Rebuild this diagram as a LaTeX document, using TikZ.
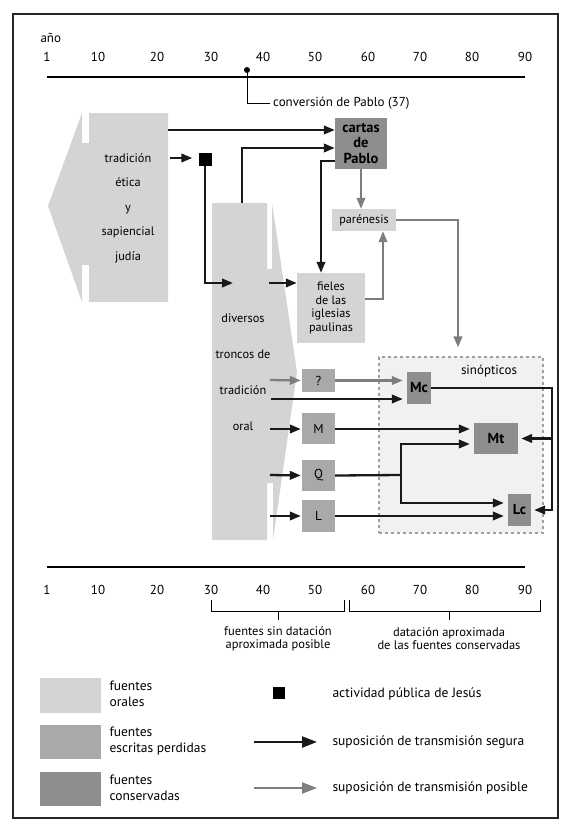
\documentclass[tikz,border=0pt]{standalone}
\usepackage{fontspec}
\setmainfont{PT Sans}
\usepackage{tikz}
\usetikzlibrary{arrows.meta}
\usepackage{xcolor}
\definecolor{oral}{HTML}{D4D4D4}
\definecolor{perdida}{HTML}{A9A9A9}
\definecolor{conserv}{HTML}{8E8E8E}
\definecolor{posible}{HTML}{7E7E7E}
\definecolor{sinop}{HTML}{F1F1F1}

\begin{document}
\begin{tikzpicture}[x=1pt,y=-1pt,>={Triangle[length=11pt,width=8.5pt]},
  font=\fontsize{13}{15}\selectfont,
  seg/.style={line width=2.3pt,black!90},
  posib/.style={line width=2.3pt,posible},
  oralbox/.style={fill=oral,inner sep=0pt,align=center,font=\fontsize{12.2}{13.5}\selectfont},
  lostbox/.style={fill=perdida,inner sep=0pt,align=center,font=\fontsize{13}{14}\selectfont},
  keptbox/.style={fill=conserv,inner sep=0pt,align=center,font=\fontsize{14.5}{15.5}\selectfont\bfseries}]
\useasboundingbox (0,0) rectangle (571,831);
\draw[line width=1.3pt,black!85] (13,14) rectangle (558,818);
% eje superior
\node[anchor=west] (ano) at (37,38) {año};
\node (a1) at (47,57) {1};
\node (a10) at (98,57) {10};
\node (a20) at (157,57) {20};
\node (a30) at (211,57) {30};
\node (a40) at (263,57) {40};
\node (a50) at (315,57) {50};
\node (a60) at (368,57) {60};
\node (a70) at (420,57) {70};
\node (a80) at (472,57) {80};
\node (a90) at (525,57) {90};
\draw[line width=1.3pt] (47,77) -- (525,77);
\node[circle,fill,inner sep=0pt,minimum size=6pt] (conv) at (247,70) {};
\node[anchor=west,inner sep=3pt] (convtxt) at (270,103) {conversión de Pablo (37)};
\draw[line width=0.8pt] (conv) |- (convtxt.west);
% tradicion judia
\fill[oral] (48,206) -- (82,113) -- (82,143) -- (89,143) -- (89,113) -- (168,113) -- (168,302)
  -- (89,302) -- (89,265) -- (82,265) -- (82,302) -- cycle;
\node[align=center,font=\fontsize{12.3}{24.5}\selectfont] (judia) at (128,208)
  {tradición\\ética\\y\\sapiencial\\judía};
% troncos orales
\fill[oral] (212,203) -- (267,203) -- (267,269) -- (272,269) -- (272,203) -- (297,372)
  -- (273,540) -- (273,483) -- (267,483) -- (267,540) -- (212,540) -- cycle;
\node[align=center,font=\fontsize{12.3}{36}\selectfont] (troncos) at (243,372.5)
  {diversos\\troncos de\\tradición\\oral};
% cajas
\node[fill=black,inner sep=0pt,minimum size=13pt] (jesus) at (205,159.5) {};
\node[keptbox,minimum width=52pt,minimum height=51pt] (cartas) at (361,143.5) {cartas\\de\\Pablo};
\node[oralbox,minimum width=64pt,minimum height=22pt] (parenesis) at (364,220) {parénesis};
\node[oralbox,minimum width=68pt,minimum height=70pt] (fieles) at (331,308)
  {fieles\\de las\\iglesias\\paulinas};
\node[draw=gray!75,dash pattern=on 3pt off 3pt,line width=1.3pt,fill=sinop,minimum width=164pt,
  minimum height=176pt,inner sep=0pt] (sinopticos) at (461,445) {};
\node (sinlab) at (489,371) {sinópticos};
\node[lostbox,minimum width=33pt,minimum height=23pt] (q) at (318.5,380.5) {?};
\node[lostbox,minimum width=33pt,minimum height=31pt] (m) at (318.5,428.5) {M};
\node[lostbox,minimum width=33pt,minimum height=31pt] (qq) at (318.5,475.5) {Q};
\node[lostbox,minimum width=33pt,minimum height=32pt] (l) at (318.5,516) {L};
\node[keptbox,minimum width=24pt,minimum height=32pt] (mc) at (419,388) {Mc};
\node[keptbox,minimum width=44pt,minimum height=31pt] (mt) at (496,438.5) {Mt};
\node[keptbox,minimum width=23pt,minimum height=32pt] (lc) at (519.5,510) {Lc};
% flechas
\coordinate (j1) at (168,130);
\coordinate (j2) at (170,158);
\coordinate (o0) at (242,203);
\coordinate (o1) at (233,283);
\coordinate (o2) at (269,283);
\coordinate (o3) at (270,380);
\coordinate (o4) at (271,399);
\coordinate (o5) at (270,429);
\coordinate (o6) at (270,475);
\coordinate (o7) at (270,516);
\coordinate (qb) at (401,475);
\coordinate (mcb) at (552,438.5);
\draw[seg,->] (j1) -- (j1 -| cartas.west);
\draw[seg,->,shorten >=6pt] (j2) -- (j2 -| jesus.west);
\draw[seg,->] (jesus.south) |- (o1);
\draw[seg,->] (o0) |- (cartas.west |- 0,148);
\draw[seg,->] (cartas.west |- 0,161) -| (321,0 |- fieles.north);
\draw[seg,->] (o2) -- (o2 -| fieles.west);
\draw[posib,->] (cartas.south) -- (cartas.south |- parenesis.north);
\draw[posib,->] (fieles.east |- 0,299) -| (383,0 |- parenesis.south);
\draw[posib,->,shorten >=9pt] (parenesis.east) -| (458,0 |- sinopticos.north);
\draw[posib,->,shorten >=1pt] (o3) -- (q.west);
\draw[posib,->,shorten >=4pt] (q.east) -- (q.east -| mc.west);
\draw[seg,->,shorten >=4pt] (o4) -- (o4 -| mc.west);
\draw[seg,->,shorten >=1pt] (o5) -- (o5 -| m.west);
\draw[seg,->,shorten >=4pt] (o5 -| m.east) -- (o5 -| mt.west);
\draw[seg,->,shorten >=1pt] (o6) -- (qq.west);
\draw[seg] (qq.east) -- (qb);
\draw[seg,->,shorten >=4pt] (qb) |- (mt.west |- 0,444);
\draw[seg,->,shorten >=4pt] (qb) |- (lc.west |- 0,503);
\draw[seg,->,shorten >=1pt] (o7) -- (l.west);
\draw[seg,->,shorten >=4pt] (l.east) -- (l.east -| lc.west);
\draw[seg,->,shorten >=3pt] (mc.east) -| (mcb) -- (mt.east);
\draw[seg,->,shorten >=3pt] (mcb) |- (lc.east);
% eje inferior
\draw[line width=1.3pt] (47,567) -- (525,567);
\node (b1) at (47,590) {1};
\node (b10) at (98,590) {10};
\node (b20) at (157,590) {20};
\node (b30) at (211,590) {30};
\node (b40) at (263,590) {40};
\node (b50) at (315,590) {50};
\node (b60) at (368,590) {60};
\node (b70) at (420,590) {70};
\node (b80) at (472,590) {80};
\node (b90) at (525,590) {90};
\draw[line width=1pt] (211,600) -- (211,611) -- (344,611) -- (344,600);
\draw[line width=1pt] (278,611) -- (278,620);
\draw[line width=1pt] (349,600) -- (349,611) -- (540,611) -- (540,600);
\draw[line width=1pt] (449,611) -- (449,620);
\node[align=center,font=\fontsize{12.5}{13}\selectfont] (sindata) at (278,639)
  {fuentes sin datación\\aproximada posible};
\node[align=center,font=\fontsize{12.5}{13}\selectfont] (condata) at (449,639)
  {datación aproximada\\de las fuentes conservadas};
% leyenda
\node[oralbox,minimum width=61pt,minimum height=35pt] (ley1) at (70.5,695) {};
\node[lostbox,minimum width=61pt,minimum height=34pt] (ley2) at (70.5,742) {};
\node[keptbox,minimum width=61pt,minimum height=34pt] (ley3) at (70.5,788.5) {};
\node[anchor=west,align=left,font=\fontsize{13.5}{16}\selectfont] (ley1t) at (106,694) {fuentes\\orales};
\node[anchor=west,align=left,font=\fontsize{13.5}{16}\selectfont] (ley2t) at (106,741) {fuentes\\escritas perdidas};
\node[anchor=west,align=left,font=\fontsize{13.5}{16}\selectfont] (ley3t) at (106,788) {fuentes\\conservadas};
\node[fill=black,inner sep=0pt,minimum size=12pt] (ley4) at (279,693) {};
\coordinate (s0) at (254,742);
\coordinate (s1) at (317,742);
\coordinate (p0) at (254,788);
\coordinate (p1) at (317,788);
\draw[seg,-{Triangle[length=15pt,width=11pt]}] (s0) -- (s1);
\draw[posib,-{Triangle[length=15pt,width=11pt]}] (p0) -- (p1);
\node[anchor=west,font=\fontsize{13.5}{16}\selectfont] (ley4t) at (329,694) {actividad pública de Jesús};
\node[anchor=west,font=\fontsize{13.5}{16}\selectfont] (ley5t) at (329,742) {suposición de transmisión segura};
\node[anchor=west,font=\fontsize{13.5}{16}\selectfont] (ley6t) at (329,788) {suposición de transmisión posible};
\end{tikzpicture}
\end{document}
